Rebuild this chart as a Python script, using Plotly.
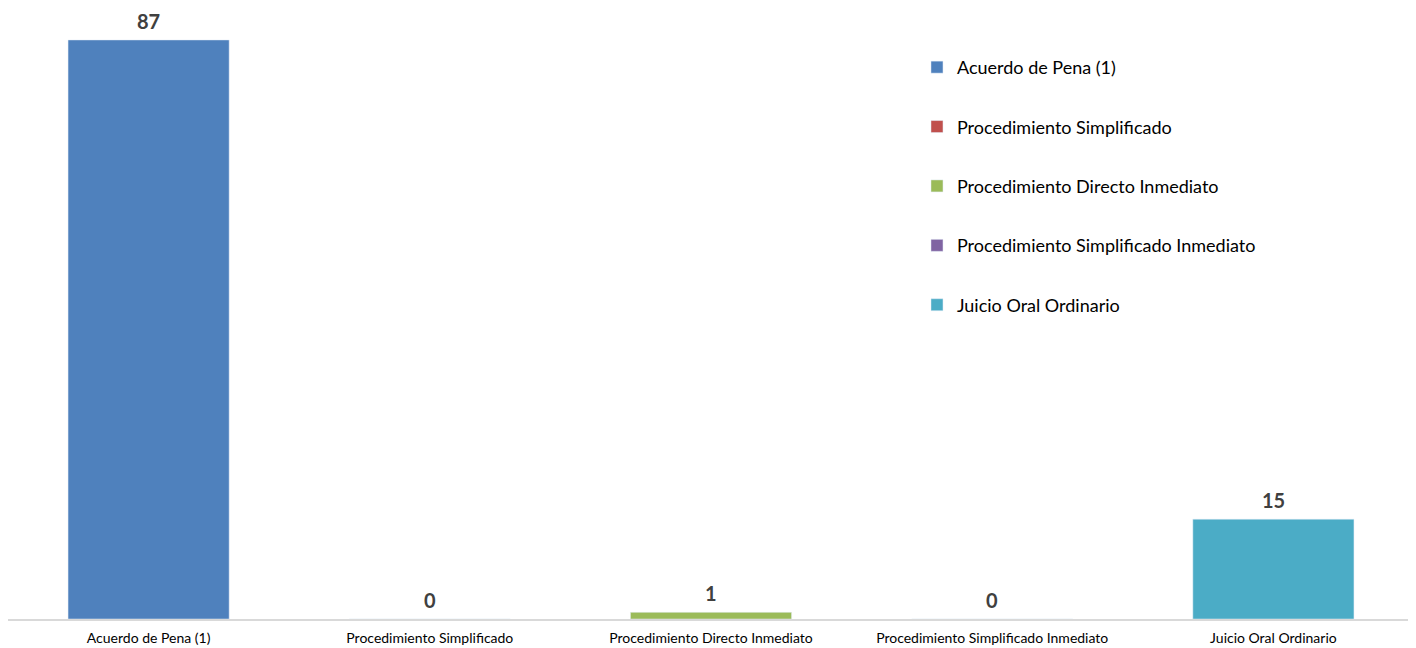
import plotly.graph_objects as go

categories = ["Acuerdo de Pena (1)", "Procedimiento Simplificado", "Procedimiento Directo Inmediato",
              "Procedimiento Simplificado Inmediato", "Juicio Oral Ordinario"]
values = [87, 0, 1, 0, 15]
colors = ["#4F81BD", "#C0504D", "#9BBB59", "#8064A2", "#4BACC6"]

fig = go.Figure()
for i, (c, v, col) in enumerate(zip(categories, values, colors)):
    fig.add_trace(go.Bar(
        x=[c], y=[v], name=c, marker_color=col, width=0.573,
        legendgroup=f"g{i}",
    ))
    fig.add_annotation(x=c, y=v, text=f"<b>{v}</b>", showarrow=False,
                       yanchor="bottom", yshift=6, borderpad=0,
                       font=dict(family="Lato", size=20, color="#404040"))

fig.update_layout(
    width=1416, height=648,
    margin=dict(l=0, r=10, t=0, b=37),
    plot_bgcolor="white", paper_bgcolor="white",
    barmode="overlay",
    showlegend=True,
    legend=dict(x=0.6465, y=0.933, xanchor="left", yanchor="top",
                font=dict(family="Lato", size=18, color="#000000"),
                tracegroupgap=33, itemwidth=30, bgcolor="rgba(0,0,0,0)"),
    xaxis=dict(categoryorder="array", categoryarray=categories, showline=True,
               linecolor="#D9D9D9", linewidth=2, ticks="", showgrid=False,
               automargin=False, ticklabelstandoff=5,
               tickfont=dict(family="Lato", size=14, color="#000000")),
    yaxis=dict(range=[0, 91.8], visible=False, showgrid=False, zeroline=False,
               automargin=False),
)

fig.write_html("out.html")
